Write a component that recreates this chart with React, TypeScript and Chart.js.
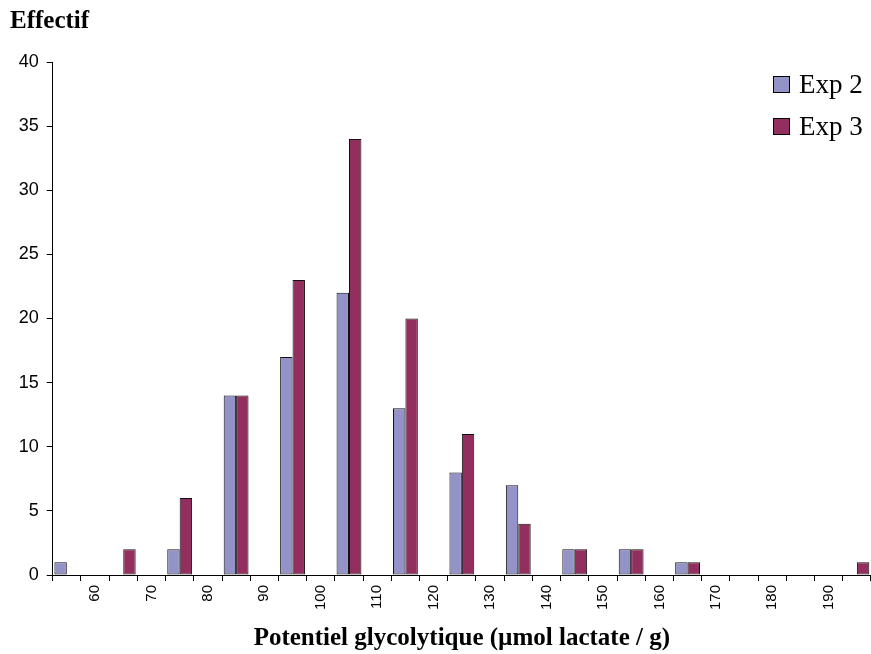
import React, { useEffect, useRef } from "react";
import { Chart, registerables } from "chart.js";

Chart.register(...registerables);

// Bin tick labels (shown between the bars)
const tickLabels = ["60", "70", "80", "90", "100", "110", "120", "130", "140", "150", "160", "170", "180", "190"];
// Counts per bin (15 bins: <60, 60-70, ..., 190-200)
const exp2Counts = [1, 0, 2, 14, 17, 22, 13, 8, 7, 2, 2, 1, 0, 0, 0];
const exp3Counts = [0, 2, 6, 14, 23, 34, 20, 11, 4, 2, 2, 1, 0, 0, 1];
const seriesNames = ["Exp 2", "Exp 3"];
const seriesColors = ["#9393C8", "#922F5E"];

const yTitle = "Effectif";
const xTitle = "Potentiel glycolytique (µmol lactate / g)";

// Interleave: even slots hold bars, odd slots hold the bin boundary label
const labels: string[] = [];
const exp2Data: (number | null)[] = [];
const exp3Data: (number | null)[] = [];
for (let i = 0; i < exp2Counts.length * 2 - 1; i++) {
  if (i % 2 === 0) {
    labels.push("");
    exp2Data.push(exp2Counts[i / 2]);
    exp3Data.push(exp3Counts[i / 2]);
  } else {
    labels.push(tickLabels[(i - 1) / 2]);
    exp2Data.push(null);
    exp3Data.push(null);
  }
}

const legendPlugin = {
  id: "customLegend",
  afterDraw(chart: any) {
    const { ctx, chartArea } = chart;
    ctx.save();
    const boxSize = 17;
    const x0 = chartArea.right - 98;
    chart.data.datasets.forEach((ds: any, i: number) => {
      const top = chartArea.top + 14 + i * 42;
      ctx.fillStyle = ds.backgroundColor;
      ctx.fillRect(x0, top, boxSize, boxSize);
      ctx.strokeStyle = "#000";
      ctx.lineWidth = 1;
      ctx.strokeRect(x0 + 0.5, top + 0.5, boxSize - 1, boxSize - 1);
      ctx.fillStyle = "#000";
      ctx.font = "27px 'Liberation Serif'";
      ctx.textBaseline = "alphabetic";
      ctx.textAlign = "left";
      ctx.fillText(ds.label, x0 + 26, top + 17);
    });
    ctx.restore();
  },
};

export default function App() {
  const canvasRef = useRef<HTMLCanvasElement>(null);

  useEffect(() => {
    const canvas = canvasRef.current;
    if (!canvas) return;
    const chart = new Chart(canvas, {
      type: "bar",
      data: {
        labels,
        datasets: [
          {
            label: seriesNames[0],
            data: exp2Data,
            backgroundColor: seriesColors[0],
            borderColor: "#111",
            borderWidth: 1,
            borderSkipped: false,
            categoryPercentage: 0.88,
            barPercentage: 1.0,
          },
          {
            label: seriesNames[1],
            data: exp3Data,
            backgroundColor: seriesColors[1],
            borderColor: "#111",
            borderWidth: 1,
            borderSkipped: false,
            categoryPercentage: 0.88,
            barPercentage: 1.0,
          },
        ],
      },
      options: {
        animation: false,
        responsive: false,
        maintainAspectRatio: false,
        layout: { padding: { left: 10, right: 0, top: 0, bottom: 0 } },
        plugins: {
          legend: { display: false },
          tooltip: { enabled: false },
          title: {
            display: true,
            text: yTitle,
            align: "start",
            color: "#000",
            font: { family: "'Liberation Serif'", size: 25, weight: "bold" },
            padding: { top: 7, bottom: 25 },
          },
        },
        scales: {
          x: {
            offset: true,
            grid: {
              display: true,
              offset: true,
              drawOnChartArea: false,
              drawTicks: true,
              tickLength: 6,
              color: "#000",
            },
            border: { color: "#000" },
            ticks: {
              autoSkip: false,
              maxRotation: 90,
              minRotation: 90,
              color: "#000",
              padding: 4,
              font: { family: "'Liberation Sans'", size: 15 },
            },
            title: {
              display: true,
              text: xTitle,
              color: "#000",
              font: { family: "'Liberation Serif'", size: 25, weight: "bold" },
              padding: { top: 0, bottom: 0 },
            },
            afterFit: (scale: any) => {
              scale.height = 79;
              scale.paddingLeft = 0;
              scale.paddingRight = 0;
            },
          },
          y: {
            min: 0,
            max: 40,
            ticks: {
              stepSize: 5,
              color: "#000",
              padding: 8,
              font: { family: "'Liberation Sans'", size: 18 },
            },
            grid: {
              display: true,
              drawOnChartArea: false,
              drawTicks: true,
              tickLength: 6,
              color: "#000",
            },
            border: { color: "#000" },
            afterFit: (scale: any) => {
              scale.width = 42.7;
            },
          },
        },
      },
      plugins: [legendPlugin],
    });
    return () => chart.destroy();
  }, []);

  return (
    <div style={{ position: "absolute", left: 0, top: 0, width: 871, height: 654, background: "#fff" }}>
      <canvas ref={canvasRef} width={871} height={654} style={{ width: 871, height: 654 }} />
    </div>
  );
}
